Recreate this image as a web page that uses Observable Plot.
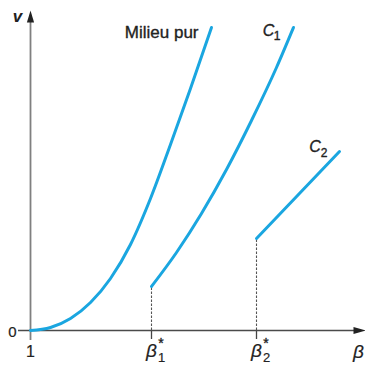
<!DOCTYPE html>
<html><head><meta charset="utf-8">
<script src="https://cdn.jsdelivr.net/npm/d3@7"></script>
<script src="https://cdn.jsdelivr.net/npm/@observablehq/plot@0.6"></script>
<style>body{margin:0;background:#fff}</style>
</head><body><div id="chart"></div>
<script>
// Data (schematic units: beta, v)
const betaMilieu = [1, 1.2, 1.4, 1.6, 1.8, 2.0, 2.2, 2.4, 2.6, 2.81];
const vMilieu    = [0, 0.03, 0.12, 0.28, 0.52, 0.86, 1.32, 1.86, 2.42, 3.03];
const betaC1 = [2.21, 2.46, 2.71, 2.96, 3.21, 3.46, 3.63];
const vC1    = [0.44, 0.78, 1.17, 1.61, 2.10, 2.63, 3.03];
const betaC2 = [3.26, 4.09];
const vC2    = [0.92, 1.79];
const betaStar = [2.21, 3.26];
const vStar    = [0.44, 0.92];
const starSubs = ["1", "2"];
const curveLabels = ["Milieu pur", "C", "C"];
const curveSubs = ["", "1", "2"];

const milieu = betaMilieu.map((b, i) => ({b, v: vMilieu[i]}));
const c1 = betaC1.map((b, i) => ({b, v: vC1[i]}));
const c2 = betaC2.map((b, i) => ({b, v: vC2[i]}));
const stars = betaStar.map((b, i) => ({b, v: vStar[i], sub: starSubs[i]}));

const blue = "#1aa6e0";
const ink = "#222";
const font = "Liberation Sans, Arial, Helvetica, sans-serif";
const arrowSym = {draw(ctx) { ctx.moveTo(0, -6); ctx.lineTo(3.6, 6); ctx.lineTo(-3.6, 6); ctx.closePath(); }};
const heavy = {fill: ink, stroke: ink, strokeWidth: 0.35};

const chart = Plot.plot({
  width: 365, height: 370,
  margin: 0,
  style: {fontFamily: font, background: "#fff"},
  x: {domain: [0.7, 4.35], axis: null},
  y: {domain: [-0.4, 3.3], axis: null},
  marks: [
    // dashed guides
    Plot.ruleX(stars, {x: "b", y1: 0, y2: "v", stroke: "#555", strokeWidth: 1.1, strokeDasharray: "2.5,1.5"}),
    // ticks below axis
    Plot.ruleX(stars, {x: "b", y1: -0.09, y2: 0, stroke: "#444", strokeWidth: 1.3}),
    // y axis
    Plot.ruleX([1], {y1: -0.1, y2: 3.1, stroke: "#808080", strokeWidth: 1.8}),
    // x axis
    Plot.ruleY([0], {x1: 0.88, x2: 4.26, stroke: "#4a4a4a", strokeWidth: 1.6}),
    Plot.dot([{b: 1, v: 3.14}], {x: "b", y: "v", symbol: arrowSym, fill: ink, stroke: null}),
    Plot.dot([{b: 4.29, v: 0}], {x: "b", y: "v", symbol: arrowSym, rotate: 90, fill: ink, stroke: null}),
    // curves
    Plot.line(milieu, {x: "b", y: "v", stroke: blue, strokeWidth: 3, curve: "monotone-x"}),
    Plot.line(c1, {x: "b", y: "v", stroke: blue, strokeWidth: 3, curve: "monotone-x"}),
    Plot.line(c2, {x: "b", y: "v", stroke: blue, strokeWidth: 3}),
    // axis labels
    Plot.text(["v"], {x: 0.87, y: 3.14, fontSize: 17, fontStyle: "italic", fontWeight: "bold", fill: ink}),
    Plot.text(["0"], {x: 0.82, y: -0.02, fontSize: 15, ...heavy, strokeWidth: 0.2}),
    Plot.text(["1"], {x: 1.0, y: -0.215, fontSize: 16, ...heavy, strokeWidth: 0.2}),
    Plot.text(["β"], {x: 4.28, y: -0.215, fontSize: 19, fontStyle: "italic", ...heavy, strokeWidth: 0.2}),
    Plot.text(stars, {x: "b", y: -0.205, text: () => "β", fontSize: 19, fontStyle: "italic", ...heavy, strokeWidth: 0.2}),
    Plot.text(stars, {x: "b", y: -0.205, text: () => "*", dx: 9.5, dy: -7, fontSize: 14, ...heavy}),
    Plot.text(stars, {x: "b", y: -0.205, text: "sub", dx: 10, dy: 6.5, fontSize: 13, ...heavy, strokeWidth: 0.2}),
    // curve labels
    Plot.text([curveLabels[0]], {x: 2.68, y: 2.98, textAnchor: "end", fontSize: 17, ...heavy}),
    Plot.text([curveLabels[1]], {x: 3.38, y: 3.0, fontSize: 16, fontStyle: "italic", ...heavy}),
    Plot.text([curveSubs[1]], {x: 3.38, y: 3.0, dx: 8.5, dy: 5.5, fontSize: 12, ...heavy}),
    Plot.text([curveLabels[2]], {x: 3.845, y: 1.84, fontSize: 16, fontStyle: "italic", ...heavy}),
    Plot.text([curveSubs[2]], {x: 3.845, y: 1.84, dx: 9, dy: 6.5, fontSize: 12, ...heavy})
  ]
});
document.getElementById("chart").append(chart);
</script>
</body></html>
